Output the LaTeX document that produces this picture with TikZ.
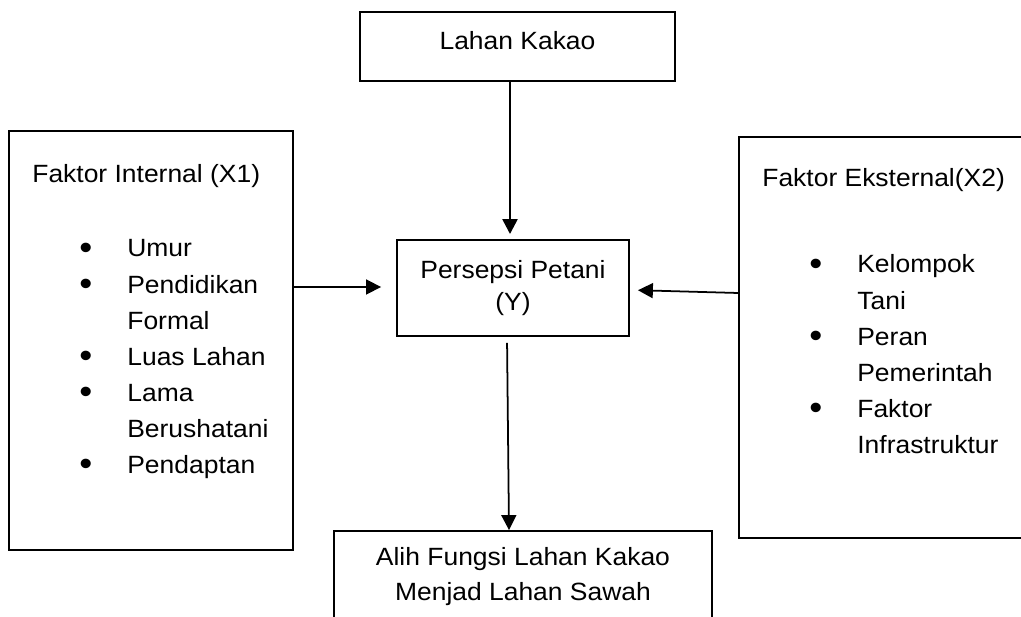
\documentclass[tikz,border=0pt]{standalone}
\usepackage{fontspec}
\usepackage{graphicx}
\setmainfont{Liberation Sans}[FakeStretch=1.06]
\usetikzlibrary{arrows.meta,positioning,calc}
\newcommand{\itm}{\raisebox{-1.6pt}{\scalebox{1.4}{\textbullet}}}

\begin{document}
\begin{tikzpicture}[x=0.02cm, y=-0.02cm, >={Triangle[length=8.5pt,width=8.5pt]},
    font=\fontsize{14.2}{19.5}\selectfont,
    box/.style={draw, line width=1.1pt, inner sep=0pt, align=center},
    list/.style={anchor=base west, inner sep=0pt, font=\fontsize{14.2}{20.5}\selectfont},
    title/.style={anchor=base west, inner sep=0pt},
    arr/.style={->, line width=1pt}]
  \useasboundingbox (0,0) rectangle (1021,617);
  \clip (0,0) rectangle (1021,617);
  \node[box, minimum width=6.3cm, minimum height=1.38cm, text depth=0.26cm] (kakao) at (517.5,46.5) {Lahan Kakao};
  \node[box, minimum width=4.64cm, minimum height=1.92cm] (persepsi) at (513,288) {Persepsi Petani\\[-0.8pt](Y)};
  \node[box, minimum width=7.56cm, minimum height=1.82cm] (alih) at (523,576.5)
       {Alih Fungsi Lahan Kakao\\Menjad Lahan Sawah};
  % the two factor boxes
  \node[box, minimum width=5.68cm, minimum height=8.38cm] (internal) at (151,340.5) {};
  \node[box, minimum width=6.42cm, minimum height=8.02cm] (eksternal) at (899.5,337.5) {};
  \node[title] (internal-title) at (32,183) {Faktor Internal (X1)};
  \node[title] (eksternal-title) at (762,187) {Faktor Eksternal(X2)};
  \node[list] (internal-list) at (79,257) {\begin{tabular}[t]{@{}p{0.96cm}@{}l@{}}
      \itm & Umur\\ \itm & Pendidikan\\ & Formal\\ \itm & Luas Lahan\\
      \itm & Lama\\ & Berushatani\\ \itm & Pendaptan\end{tabular}};
  \node[list] (eksternal-list) at (809,273) {\begin{tabular}[t]{@{}p{0.96cm}@{}l@{}}
      \itm & Kelompok\\ & Tani\\ \itm & Peran\\ & Pemerintah\\
      \itm & Faktor\\ & Infrastruktur\end{tabular}};
  \draw[arr, line width=1.4pt, shorten >=0.1cm] (510,0 |- kakao.south) -- (510,0 |- persepsi.north);
  \draw[arr, shorten >=0.3cm] (internal.east |- 0,287) -- (persepsi.west |- 0,287);
  \draw[arr, shorten >=0.16cm] (eksternal.west |- 0,293) -- (persepsi.east |- 0,290);
  \draw[arr, shorten <=0.12cm] (persepsi.south -| 507,0) -- (alih.north -| 509,0);
\end{tikzpicture}
\end{document}
